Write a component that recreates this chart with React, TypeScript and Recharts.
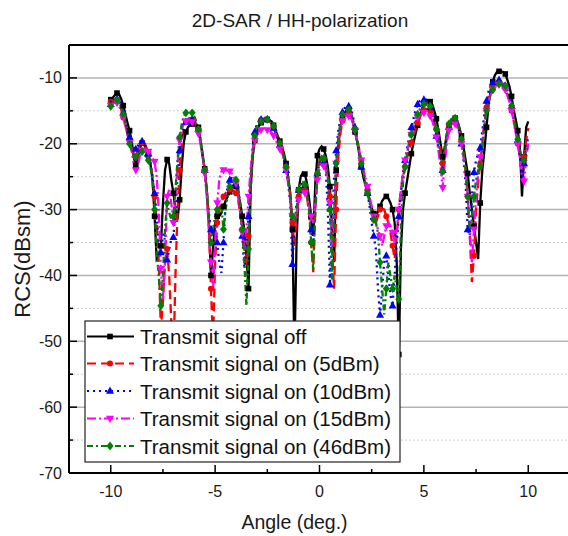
import React from "react";
import { LineChart, Line, XAxis, YAxis, ReferenceLine } from "recharts";

// angle (deg.), 0.1 deg steps
const angles = [
  -10, -9.9, -9.8, -9.7, -9.6, -9.5, -9.4, -9.3, -9.2, -9.1,
  -9, -8.9, -8.8, -8.7, -8.6, -8.5, -8.4, -8.3, -8.2, -8.1,
  -8, -7.9, -7.8, -7.7, -7.6, -7.5, -7.4, -7.3, -7.2, -7.1,
  -7, -6.9, -6.8, -6.7, -6.6, -6.5, -6.4, -6.3, -6.2, -6.1,
  -6, -5.9, -5.8, -5.7, -5.6, -5.5, -5.4, -5.3, -5.2, -5.1,
  -5, -4.9, -4.8, -4.7, -4.6, -4.5, -4.4, -4.3, -4.2, -4.1,
  -4, -3.9, -3.8, -3.7, -3.6, -3.5, -3.4, -3.3, -3.2, -3.1,
  -3, -2.9, -2.8, -2.7, -2.6, -2.5, -2.4, -2.3, -2.2, -2.1,
  -2, -1.9, -1.8, -1.7, -1.6, -1.5, -1.4, -1.3, -1.2, -1.1,
  -1, -0.9, -0.8, -0.7, -0.6, -0.5, -0.4, -0.3, -0.2, -0.1,
  0, 0.1, 0.2, 0.3, 0.4, 0.5, 0.6, 0.7, 0.8, 0.9,
  1, 1.1, 1.2, 1.3, 1.4, 1.5, 1.6, 1.7, 1.8, 1.9,
  2, 2.1, 2.2, 2.3, 2.4, 2.5, 2.6, 2.7, 2.8, 2.9,
  3, 3.1, 3.2, 3.3, 3.4, 3.5, 3.6, 3.7, 3.8, 3.9,
  4, 4.1, 4.2, 4.3, 4.4, 4.5, 4.6, 4.7, 4.8, 4.9,
  5, 5.1, 5.2, 5.3, 5.4, 5.5, 5.6, 5.7, 5.8, 5.9,
  6, 6.1, 6.2, 6.3, 6.4, 6.5, 6.6, 6.7, 6.8, 6.9,
  7, 7.1, 7.2, 7.3, 7.4, 7.5, 7.6, 7.7, 7.8, 7.9,
  8, 8.1, 8.2, 8.3, 8.4, 8.5, 8.6, 8.7, 8.8, 8.9,
  9, 9.1, 9.2, 9.3, 9.4, 9.5, 9.6, 9.7, 9.8, 9.9, 10,
];

// RCS (dBsm), transmit signal off
const rcsOff = [
  -13.3, -13.0, -12.6, -12.3, -12.5, -13.2, -14.2, -15.5, -16.8, -18.0,
  -19.5, -22.0, -23.3, -22.3, -20.6, -19.9, -20.2, -20.8, -21.5, -23.0,
  -25.5, -31.0, -37.5, -37.0, -35.5, -29.0, -24.0, -22.4, -23.0, -25.5,
  -27.5, -30.0, -31.5, -28.5, -23.5, -19.8, -18.2, -17.5, -17.1, -17.0,
  -17.0, -17.1, -17.5, -19.5, -21.8, -23.8, -27.0, -32.0, -40.0, -36.0,
  -32.0, -31.0, -31.0, -30.5, -29.5, -28.7, -28.0, -27.3, -26.6, -26.2,
  -26.5, -27.5, -29.0, -31.0, -33.0, -37.0, -42.0, -27.0, -22.0, -19.5,
  -18.2, -17.3, -16.8, -16.5, -16.3, -16.3, -16.4, -16.6, -17.2, -18.0,
  -18.8, -19.6, -20.5, -21.5, -23.0, -25.0, -27.5, -33.0, -52.0, -35.0,
  -27.0, -25.0, -24.4, -24.6, -26.0, -28.3, -31.0, -34.0, -26.0, -21.8,
  -20.8, -20.4, -20.8, -21.8, -23.5, -26.5, -33.0, -38.0, -24.0, -20.5,
  -17.5, -16.2, -15.3, -14.9, -14.8, -15.3, -16.8, -18.2, -19.6, -21.5,
  -23.5, -25.0, -26.3, -27.3, -28.5, -29.8, -30.6, -31.0, -30.3, -29.5,
  -28.7, -28.2, -28.0, -28.3, -29.0, -30.0, -32.0, -38.0, -52.0, -36.0,
  -30.0, -27.5, -25.5, -23.5, -21.5, -19.9, -18.5, -17.2, -16.0, -14.8,
  -13.8, -13.3, -13.4, -13.6, -14.0, -15.0, -16.2, -18.0, -20.0, -22.0,
  -20.5, -18.5, -17.2, -16.5, -16.2, -16.1, -16.5, -17.5, -18.8, -20.5,
  -22.5, -24.5, -27.5, -30.0, -32.5, -35.0, -37.5, -29.0, -24.0, -21.0,
  -17.5, -14.0, -12.0, -10.6, -9.6, -9.1, -9.0, -9.0, -9.1, -9.4,
  -10.3, -11.3, -12.8, -14.8, -16.3, -18.0, -20.5, -28.0, -22.0, -17.5, -16.6,
];

// transmit signal on (5dBm)
const rcs5dBm = [
  -13.6, -13.4, -13.3, -13.4, -13.9, -14.8, -16.0, -17.2, -18.5, -19.5,
  -20.5, -21.5, -22.0, -21.0, -20.0, -19.8, -20.0, -20.5, -21.5, -23.0,
  -25.0, -28.0, -32.0, -38.0, -48.0, -44.0, -38.0, -36.0, -40.0, -47.0,
  -53.0, -40.0, -30.0, -24.0, -20.0, -17.8, -16.6, -16.2, -16.1, -16.3,
  -16.5, -17.0, -17.8, -19.5, -21.5, -24.0, -27.0, -32.0, -42.0, -50.0,
  -38.0, -32.0, -30.0, -29.0, -28.0, -27.5, -27.2, -27.0, -27.0, -27.2,
  -27.5, -28.5, -30.5, -33.0, -36.0, -38.5, -34.0, -26.0, -21.0, -18.5,
  -17.3, -16.7, -16.4, -16.3, -16.3, -16.4, -16.6, -17.0, -17.6, -18.4,
  -19.2, -20.0, -21.0, -22.0, -23.5, -25.5, -28.0, -32.0, -35.5, -31.0,
  -28.0, -27.0, -26.8, -27.0, -28.0, -30.5, -35.0, -39.5, -30.0, -24.5,
  -22.8, -22.2, -22.3, -23.0, -24.5, -28.0, -36.0, -42.0, -30.0, -22.0,
  -18.5, -16.5, -15.6, -15.3, -15.3, -15.6, -16.5, -17.8, -19.2, -20.8,
  -22.5, -24.0, -25.5, -27.0, -28.5, -30.0, -31.5, -32.0, -31.0, -30.0,
  -29.8, -30.0, -31.0, -32.0, -33.5, -35.5, -37.5, -34.0, -30.0, -27.0,
  -25.0, -23.5, -22.0, -20.8, -19.8, -18.8, -17.8, -16.8, -16.0, -15.3,
  -14.9, -14.7, -14.8, -15.0, -15.6, -16.5, -17.8, -19.3, -21.0, -23.0,
  -21.0, -18.8, -17.3, -16.6, -16.4, -16.5, -17.0, -18.0, -19.5, -21.5,
  -24.0, -28.0, -34.0, -41.0, -37.0, -30.0, -26.0, -23.0, -20.0, -16.8,
  -14.5, -12.8, -11.8, -11.2, -10.8, -10.6, -10.6, -10.7, -11.0, -11.6,
  -12.5, -13.6, -15.0, -16.5, -18.2, -20.0, -22.0, -23.5, -22.0, -19.5, -17.6,
];

// transmit signal on (10dBm)
const rcs10dBm = [
  -14.0, -13.6, -13.3, -13.2, -13.5, -14.2, -15.3, -16.5, -17.8, -19.0,
  -20.0, -20.6, -20.8, -20.3, -19.8, -19.6, -19.9, -20.5, -21.5, -23.0,
  -25.0, -27.5, -31.0, -35.0, -36.5, -34.0, -33.0, -37.6, -36.0, -34.5,
  -34.2, -30.0, -25.0, -21.0, -18.5, -17.3, -16.7, -16.4, -16.2, -16.3,
  -16.5, -17.0, -17.8, -19.5, -21.5, -24.0, -27.5, -30.5, -33.0, -34.0,
  -33.0, -35.0, -38.0, -39.6, -35.0, -29.0, -26.5, -25.5, -25.2, -25.5,
  -26.2, -27.5, -30.0, -34.0, -38.8, -36.0, -31.0, -25.0, -20.5, -18.2,
  -17.0, -16.5, -16.3, -16.2, -16.2, -16.3, -16.5, -17.0, -17.6, -18.4,
  -19.3, -20.2, -21.2, -22.3, -24.0, -26.0, -29.0, -38.3, -33.0, -29.0,
  -27.0, -26.2, -26.0, -26.3, -27.3, -29.5, -33.0, -35.5, -29.0, -24.5,
  -22.8, -22.5, -22.8, -24.0, -30.0, -41.4, -32.0, -25.0, -21.0, -18.0,
  -16.3, -15.2, -14.6, -14.3, -14.3, -14.7, -15.8, -17.5, -19.5, -21.5,
  -23.5, -25.0, -26.0, -27.5, -29.5, -32.0, -34.0, -36.0, -42.0, -46.0,
  -42.0, -38.0, -37.0, -40.0, -43.0, -44.6, -40.0, -35.0, -31.0, -27.5,
  -24.4, -22.5, -20.5, -19.0, -17.5, -16.2, -15.0, -14.0, -13.5, -13.3,
  -13.3, -13.4, -13.8, -14.5, -15.5, -17.0, -18.8, -20.8, -22.8, -24.0,
  -21.5, -19.0, -17.5, -16.7, -16.4, -16.5, -17.0, -18.2, -20.0, -22.5,
  -26.0, -33.0, -34.0, -28.0, -24.3, -22.5, -21.5, -20.6, -18.0, -15.5,
  -13.5, -12.0, -11.2, -10.7, -10.4, -10.3, -10.3, -10.4, -10.7, -11.2,
  -12.0, -13.0, -14.3, -15.8, -17.5, -19.5, -22.0, -25.0, -23.0, -20.5, -19.0,
];

// transmit signal on (15dBm)
const rcs15dBm = [
  -14.2, -13.9, -13.7, -13.8, -14.3, -15.0, -16.0, -17.3, -18.6, -19.8,
  -21.0, -23.0, -24.0, -23.2, -21.8, -21.0, -20.8, -21.0, -21.2, -21.8,
  -22.2, -22.7, -25.0, -30.0, -39.0, -43.6, -38.0, -28.0, -27.0, -29.0,
  -32.0, -28.0, -23.0, -19.5, -17.8, -17.0, -16.6, -16.5, -16.5, -16.7,
  -17.0, -17.6, -18.5, -20.0, -22.0, -24.5, -28.0, -33.0, -38.0, -42.4,
  -35.0, -29.0, -25.5, -24.2, -24.0, -24.0, -24.1, -24.2, -24.5, -25.0,
  -26.0, -28.0, -30.5, -33.5, -36.0, -33.0, -28.0, -24.0, -21.0, -19.5,
  -18.6, -18.1, -17.9, -17.8, -17.8, -17.9, -18.0, -18.3, -18.8, -19.4,
  -20.1, -20.8, -21.6, -22.5, -24.0, -26.0, -28.5, -31.0, -33.0, -31.0,
  -28.5, -27.5, -27.3, -27.5, -28.2, -29.5, -31.0, -32.0, -29.0, -25.5,
  -23.8, -23.3, -23.4, -24.0, -25.5, -29.0, -36.0, -30.0, -23.0, -19.5,
  -17.5, -16.5, -16.0, -15.8, -15.8, -16.0, -16.8, -18.0, -19.5, -21.0,
  -22.5, -24.0, -25.2, -26.5, -28.0, -29.5, -31.0, -32.0, -33.0, -34.0,
  -35.5, -34.0, -32.5, -32.0, -32.5, -33.5, -35.0, -33.0, -30.0, -27.0,
  -24.4, -22.5, -21.0, -19.8, -18.6, -17.6, -16.7, -16.0, -15.6, -15.4,
  -15.3, -15.3, -15.5, -15.8, -16.5, -17.5, -19.0, -21.0, -23.5, -26.7,
  -23.0, -19.8, -18.0, -17.2, -16.9, -17.0, -17.5, -18.5, -20.0, -22.0,
  -24.5, -28.0, -33.0, -38.0, -33.0, -28.0, -24.5, -22.0, -19.5, -17.0,
  -15.0, -13.5, -12.5, -11.8, -11.3, -11.1, -11.0, -11.1, -11.3, -11.8,
  -12.6, -13.6, -15.0, -16.6, -18.3, -20.0, -22.0, -25.0, -25.7, -22.0, -20.0,
];

// transmit signal on (46dBm)
const rcs46dBm = [
  -14.3, -13.9, -13.5, -13.4, -13.7, -14.4, -15.5, -16.8, -18.2, -20.0,
  -21.0, -21.8, -22.0, -21.5, -21.0, -21.2, -21.5, -22.0, -22.5, -23.5,
  -25.5, -30.0, -36.0, -40.1, -44.6, -40.0, -33.0, -29.0, -30.5, -31.5,
  -31.0, -27.0, -22.5, -19.0, -17.0, -15.8, -15.3, -15.1, -15.1, -15.3,
  -15.8, -16.6, -17.8, -19.5, -21.5, -24.0, -27.0, -31.0, -35.0, -33.0,
  -31.0, -30.0, -29.5, -29.5, -33.0, -30.0, -28.0, -26.5, -25.7, -25.5,
  -25.5, -26.5, -29.0, -33.0, -38.0, -44.6, -36.0, -27.0, -21.5, -18.8,
  -17.5, -16.9, -16.6, -16.4, -16.3, -16.3, -16.4, -16.7, -17.3, -18.1,
  -19.0, -19.9, -20.9, -22.0, -23.5, -25.5, -28.0, -31.0, -33.0, -30.0,
  -27.0, -26.0, -25.8, -26.2, -27.5, -30.0, -35.0, -39.0, -30.0, -24.5,
  -22.5, -21.9, -22.2, -23.2, -25.0, -30.0, -40.6, -31.0, -23.0, -19.0,
  -16.8, -15.6, -15.0, -14.8, -14.8, -15.2, -16.3, -17.8, -19.5, -21.3,
  -23.0, -24.5, -26.0, -27.5, -29.0, -30.5, -31.5, -32.0, -33.5, -38.0,
  -42.0, -45.9, -42.0, -38.0, -40.1, -42.0, -40.0, -42.0, -43.6, -33.0,
  -26.0, -23.5, -21.5, -20.0, -18.6, -17.4, -16.4, -15.5, -14.8, -14.3,
  -14.0, -14.0, -14.1, -14.3, -15.0, -16.2, -17.8, -19.8, -22.0, -24.2,
  -21.0, -18.5, -17.0, -16.3, -16.1, -16.1, -16.6, -17.7, -19.3, -21.5,
  -24.0, -28.0, -33.5, -31.5, -28.0, -25.5, -24.0, -23.4, -20.5, -17.5,
  -15.0, -13.5, -12.5, -11.8, -11.3, -11.0, -10.9, -10.9, -11.0, -11.2,
  -11.8, -12.8, -14.2, -15.8, -17.5, -19.3, -21.0, -22.0, -22.5, -21.0, -20.5,
];

const seriesNames = [
  "Transmit signal off",
  "Transmit signal on (5dBm)",
  "Transmit signal on (10dBm)",
  "Transmit signal on (15dBm)",
  "Transmit signal on (46dBm)",
];

const xTicks = [-10, -7.5, -5, -2.5, 0, 2.5, 5, 7.5, 10];
const yTicks = [-70, -65, -60, -55, -50, -45, -40, -35, -30, -25, -20, -15, -10];
const majorGrid = [-60, -50, -40, -30, -20, -10];
const minorGrid = [-65, -55, -45, -35, -25, -15];

const data = angles.map((a, i) => ({
  angle: a,
  off: rcsOff[i],
  on5: rcs5dBm[i],
  on10: rcs10dBm[i],
  on15: rcs15dBm[i],
  on46: rcs46dBm[i],
}));

const FONT = "'Liberation Sans', Arial, sans-serif";

const series = [
  { key: "off", color: "#000000", dash: undefined, marker: "square" },
  { key: "on5", color: "#ff0000", dash: "9 5", marker: "circle" },
  { key: "on10", color: "#0000ff", dash: "2 4", marker: "up" },
  { key: "on15", color: "#ff00ff", dash: "9 3 2 3", marker: "down" },
  { key: "on46", color: "#008000", dash: "6 3 2 3", marker: "diamond" },
];

function Marker({ shape, cx, cy, color }: any) {
  if (shape === "square")
    return <rect x={cx - 2.8} y={cy - 2.8} width={5.6} height={5.6} fill={color} />;
  if (shape === "circle") return <circle cx={cx} cy={cy} r={3} fill={color} />;
  if (shape === "up")
    return <polygon points={`${cx},${cy - 4.4} ${cx - 4},${cy + 2.8} ${cx + 4},${cy + 2.8}`} fill={color} />;
  if (shape === "down")
    return <polygon points={`${cx},${cy + 4.4} ${cx - 4},${cy - 2.8} ${cx + 4},${cy - 2.8}`} fill={color} />;
  return <polygon points={`${cx},${cy - 4.4} ${cx + 3.5},${cy} ${cx},${cy + 4.4} ${cx - 3.5},${cy}`} fill={color} />;
}

const XTick = ({ x, y, payload }: any) => {
  const major = payload.value % 5 === 0;
  return (
    <g>
      <line x1={x} x2={x} y1={y} y2={y - (major ? 8 : 4)} stroke="#000" strokeWidth={1.5} />
      {major && (
        <text x={x} y={y + 24} textAnchor="middle" fontSize={16} fontFamily={FONT} fill="#1a1a1a">
          {payload.value}
        </text>
      )}
    </g>
  );
};

const YTick = ({ x, y, payload }: any) => {
  const major = payload.value % 10 === 0;
  return (
    <g>
      <line x1={x} x2={x + (major ? 8 : 4)} y1={y} y2={y} stroke="#000" strokeWidth={1.5} />
      {major && (
        <text x={x - 7} y={y + 5.5} textAnchor="end" fontSize={16} fontFamily={FONT} fill="#1a1a1a">
          {payload.value}
        </text>
      )}
    </g>
  );
};

function LegendBox() {
  const rowY = [336.5, 363.5, 391, 418.5, 446];
  return (
    <g>
      <rect x={85} y={321} width={315} height={141} fill="#fff" stroke="#222" strokeWidth={1.2} />
      {series.map((s, i) => (
        <g key={s.key}>
          <line x1={87} x2={134} y1={rowY[i]} y2={rowY[i]} stroke={s.color} strokeWidth={2.2} strokeDasharray={s.dash} />
          <Marker shape={s.marker} cx={110} cy={rowY[i]} color={s.color} />
          <text x={140} y={rowY[i] + 7.5} fontSize={20.5} fontFamily={FONT} fill="#111">
            {seriesNames[i]}
          </text>
        </g>
      ))}
    </g>
  );
}

export default function App() {
  return (
    <div style={{ position: "absolute", left: 0, top: 0, width: 568, height: 536, overflow: "hidden", background: "#fff" }}>
      <LineChart width={580} height={536} data={data} margin={{ top: 45, right: 10, bottom: 0, left: 0 }}>
        <XAxis
          type="number"
          dataKey="angle"
          domain={[-12, 12]}
          ticks={xTicks}
          interval={0}
          height={63}
          tickSize={0}
          tickMargin={0}
          tickLine={false}
          tick={<XTick />}
          axisLine={{ stroke: "#000", strokeWidth: 2 }}
          allowDataOverflow
        />
        <YAxis
          type="number"
          domain={[-70, -5]}
          ticks={yTicks}
          interval={0}
          width={69}
          tickSize={0}
          tickMargin={0}
          tickLine={false}
          tick={<YTick />}
          axisLine={{ stroke: "#000", strokeWidth: 2 }}
          allowDataOverflow
        />
        {majorGrid.map((v) => (
          <ReferenceLine key={"M" + v} y={v} stroke="#b4b4b4" strokeWidth={1.5} />
        ))}
        {minorGrid.map((v) => (
          <ReferenceLine key={"m" + v} y={v} stroke="#cfcfcf" strokeWidth={1} strokeDasharray="2 2" />
        ))}
        <ReferenceLine y={-5} stroke="#000" strokeWidth={2} />
        {series.map((s) => (
          <Line
            key={s.key}
            dataKey={s.key}
            type="linear"
            stroke={s.color}
            strokeWidth={2.3}
            strokeDasharray={s.dash}
            isAnimationActive={false}
            dot={(p: any) =>
              p.index % 3 === 0 ? (
                <Marker key={s.key + p.index} shape={s.marker} cx={p.cx} cy={p.cy} color={s.color} />
              ) : (
                <g key={s.key + p.index} />
              )
            }
            activeDot={false}
          />
        ))}
      </LineChart>
      <svg width={568} height={536} style={{ position: "absolute", left: 0, top: 0, pointerEvents: "none" }}>
        <text x={300} y={27} textAnchor="middle" fontSize={19} fontFamily={FONT} fill="#1a1a1a">
          2D-SAR / HH-polarization
        </text>
        <text x={294.5} y={529} textAnchor="middle" fontSize={19.5} fontFamily={FONT} fill="#1a1a1a">
          Angle (deg.)
        </text>
        <text
          x={0}
          y={0}
          transform="translate(30,259) rotate(-90)"
          textAnchor="middle"
          fontSize={22}
          fontFamily={FONT}
          fill="#1a1a1a"
        >
          RCS(dBsm)
        </text>
        <LegendBox />
      </svg>
    </div>
  );
}
